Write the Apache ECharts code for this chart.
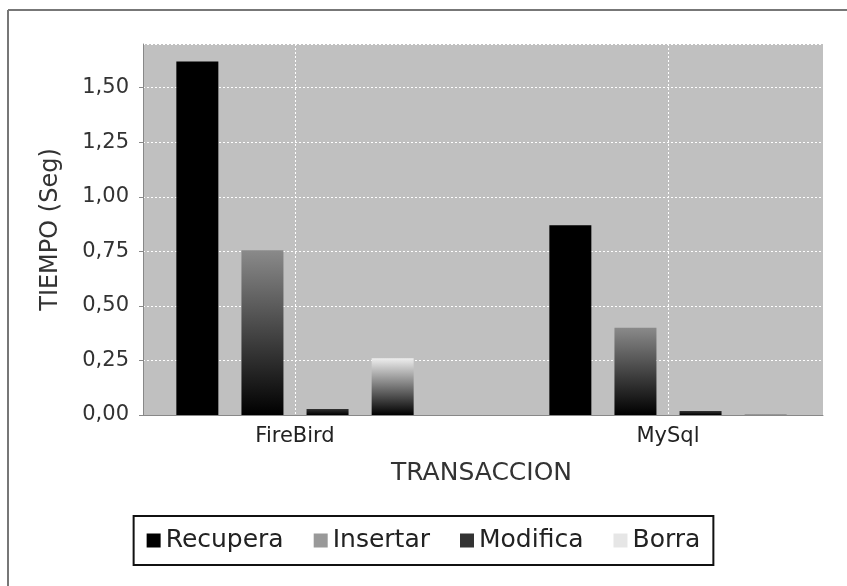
<!DOCTYPE html>
<html>
<head>
<meta charset="utf-8">
<script src="https://cdn.jsdelivr.net/npm/echarts@6/dist/echarts.min.js"></script>
<style>
  html, body { margin: 0; padding: 0; background: #fff; }
  #container1 { width: 847px; height: 586px; }
</style>
</head>
<body>
<div id="container1"></div>
<script>
// datos
var categorias = ['FireBird', 'MySql'];
var recupera = [1.62, 0.87];
var insertar = [0.755, 0.40];
var modifica = [0.028, 0.018];
var borra = [0.26, 0.004];
var nombres = ['Recupera', 'Insertar', 'Modifica', 'Borra'];
var colores = ['#000000', '#8a8a8a', '#333333', '#eeeeee'];
var colorLeyenda = ['#000000', '#999999', '#333333', '#e6e6e6'];
var yMax = 1.70;
var yPaso = 0.25;

var dom = document.getElementById("container1");
var myChart = echarts.init(dom);

function degradado(c) {
    if (c === '#000000') return c;
    return {
        type: 'linear', x: 0, y: 0, x2: 0, y2: 1,
        colorStops: [{offset: 0, color: c}, {offset: 1, color: '#000000'}]
    };
}

var valores = [recupera, insertar, modifica, borra];
var series = [];
for (var i = 0; i < nombres.length; i++) {
    series.push({
        name: nombres[i],
        type: 'bar',
        xAxisIndex: 1,
        yAxisIndex: 1,
        barWidth: 42,
        barGap: '55%',
        clip: false,
        itemStyle: {color: degradado(colores[i])},
        data: valores[i]
    });
}

var option = {
    animation: false,
    textStyle: {fontFamily: 'DejaVu Sans'},
    graphic: [
        {type: 'line', shape: {x1: 8, y1: 10, x2: 847, y2: 10}, style: {stroke: '#777', lineWidth: 2}},
        {type: 'line', shape: {x1: 8, y1: 10, x2: 8, y2: 586}, style: {stroke: '#777', lineWidth: 2}}
    ],
    legend: {
        left: 'center',
        top: 516,
        padding: [12, 13],
        itemGap: 30,
        itemWidth: 14,
        itemHeight: 14,
        borderColor: '#111',
        borderWidth: 2,
        textStyle: {fontSize: 25, color: '#222', fontFamily: 'DejaVu Sans'},
        data: nombres.map(function (n, i) {
            return {name: n, icon: 'rect', itemStyle: {color: colorLeyenda[i]}};
        })
    },
    grid: [
        {left: 143, right: 24, top: 44, bottom: 171, show: true, backgroundColor: '#c0c0c0', borderWidth: 0},
        {left: 295, right: 179, top: 44, bottom: 171}
    ],
    xAxis: [
        {
            gridIndex: 0, type: 'value', min: 0, max: 1,
            axisLine: {show: true, lineStyle: {color: '#888'}},
            axisTick: {show: false}, axisLabel: {show: false}, splitLine: {show: false}
        },
        {
            gridIndex: 1, type: 'category', data: categorias, boundaryGap: false,
            name: 'TRANSACCION', nameLocation: 'middle', nameGap: 46,
            nameTextStyle: {fontSize: 25, color: '#333'},
            axisLine: {show: false}, axisTick: {show: false},
            axisLabel: {fontSize: 21, color: '#222', margin: 11},
            splitLine: {show: true, lineStyle: {color: '#ffffff', type: [2, 2], width: 1}}
        }
    ],
    yAxis: [
        {
            gridIndex: 0, type: 'value', min: 0, max: yMax, interval: yPaso,
            name: 'TIEMPO (Seg)', nameLocation: 'middle', nameGap: 80,
            nameTextStyle: {fontSize: 24, color: '#333'},
            axisLine: {show: true, lineStyle: {color: '#888'}},
            axisTick: {show: true, length: 4, lineStyle: {color: '#888'}},
            axisLabel: {
                fontSize: 21, color: '#333', margin: 14, showMaxLabel: false,
                formatter: function (v) { return v.toFixed(2).replace('.', ','); }
            },
            splitLine: {show: true, lineStyle: {color: '#ffffff', type: [2, 2], width: 1}}
        },
        {gridIndex: 1, type: 'value', min: 0, max: yMax, show: false, splitLine: {show: false}}
    ],
    series: series
};

if (option && typeof option === "object") {
    myChart.setOption(option, true);
}
</script>
</body>
</html>
